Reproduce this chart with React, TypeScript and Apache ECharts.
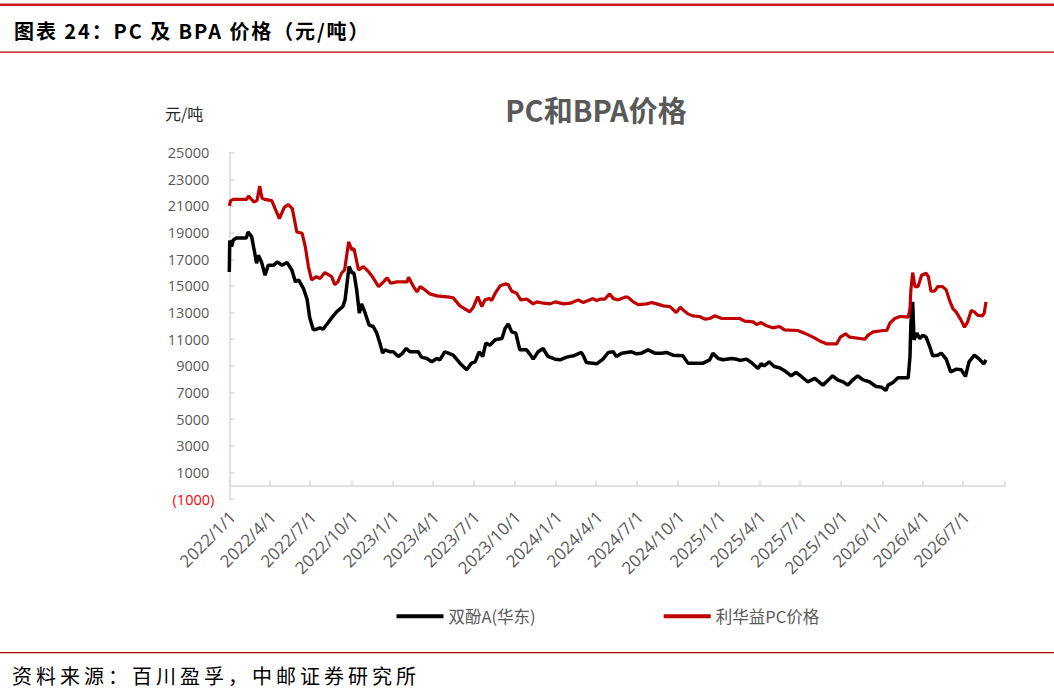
import React, { useEffect, useRef } from "react";
import * as echarts from "echarts";

const seriesNames = ["双酚A(华东)", "利华益PC价格"];

const bpaDates = [
  "2022-01-01","2022-01-02","2022-01-06","2022-01-10","2022-01-17","2022-02-08","2022-02-12","2022-02-20","2022-02-27","2022-03-03",
  "2022-03-07","2022-03-14","2022-03-22","2022-03-29","2022-04-10","2022-04-18","2022-04-29","2022-05-10","2022-05-21","2022-05-29",
  "2022-06-05","2022-06-16","2022-06-24","2022-06-30","2022-07-08","2022-07-15","2022-07-23","2022-07-30","2022-08-07","2022-08-18",
  "2022-08-29","2022-09-12","2022-09-17","2022-09-26","2022-10-02","2022-10-07","2022-10-13","2022-10-19","2022-10-24","2022-11-01",
  "2022-11-10","2022-11-19","2022-11-27","2022-12-04","2022-12-10","2022-12-15","2022-12-27","2023-01-03","2023-01-14","2023-01-22",
  "2023-02-01","2023-02-09","2023-02-28","2023-03-07","2023-03-19","2023-03-30","2023-04-10","2023-04-17","2023-04-28","2023-05-06",
  "2023-05-17","2023-06-01","2023-06-16","2023-06-27","2023-07-05","2023-07-14","2023-07-22","2023-07-29","2023-08-07","2023-08-19",
  "2023-09-03","2023-09-10","2023-09-17","2023-09-25","2023-10-04","2023-10-13","2023-10-28","2023-11-04","2023-11-12","2023-11-23",
  "2023-12-04","2023-12-15","2023-12-31","2024-01-11","2024-01-26","2024-02-10","2024-02-28","2024-03-04","2024-03-10","2024-04-02",
  "2024-04-16","2024-04-28","2024-05-09","2024-05-16","2024-05-28","2024-06-19","2024-06-30","2024-07-11","2024-07-26","2024-08-10",
  "2024-08-25","2024-09-05","2024-09-20","2024-10-12","2024-10-23","2024-11-26","2024-12-11","2024-12-18","2024-12-30","2025-01-10",
  "2025-01-29","2025-02-09","2025-02-16","2025-03-03","2025-03-14","2025-03-29","2025-04-05","2025-04-12","2025-04-23","2025-05-04",
  "2025-05-16","2025-05-31","2025-06-11","2025-06-22","2025-07-04","2025-07-18","2025-08-03","2025-08-21","2025-09-01","2025-09-12",
  "2025-09-23","2025-10-05","2025-10-16","2025-10-27","2025-11-07","2025-11-19","2025-12-03","2025-12-18","2025-12-30","2026-01-09",
  "2026-01-14","2026-01-25","2026-02-05","2026-02-28","2026-03-04","2026-03-06","2026-03-10","2026-03-13","2026-03-19","2026-03-26",
  "2026-04-02","2026-04-09","2026-04-17","2026-04-24","2026-05-05","2026-05-13","2026-05-24","2026-06-03","2026-06-16","2026-06-27",
  "2026-07-06","2026-07-14","2026-07-26","2026-08-06","2026-08-16","2026-08-21"
];
const bpaValues = [
  16050,18400,17950,18450,18600,18600,19050,18700,17450,16700,
  17300,16800,15800,16550,16550,16800,16550,16750,16200,15300,
  15450,14800,14000,12600,11700,11750,11850,11750,12100,12600,
  13050,13450,13950,16450,16000,15950,14700,12950,13650,12950,
  12050,11950,11450,10700,9950,10200,10050,10050,9700,9900,
  10300,10050,10050,9650,9550,9300,9550,9450,10050,9950,
  9800,9200,8700,9200,9300,10050,9700,10700,10550,10950,
  11050,11800,12150,11550,11450,10200,10200,9900,9500,10050,
  10300,9700,9500,9450,9650,9750,10000,9700,9250,9150,
  9500,10000,10050,9700,9950,10050,9900,9950,10200,9950,
  9950,10000,9800,9750,9200,9200,9450,9950,9550,9450,
  9550,9500,9400,9500,9250,8800,9150,9000,9300,8950,
  8850,8550,8250,8500,8200,7800,8050,7550,7900,8250,
  7950,7800,7550,7950,8250,7950,7800,7450,7400,7150,
  7550,7750,8100,8100,9700,12200,13800,10950,11450,11050,
  11300,11150,10450,9750,9800,9950,9500,8550,8750,8700,
  8200,9300,9800,9500,9150,9450
];

const pcDates = [
  "2022-01-01","2022-01-04","2022-01-10","2022-01-25","2022-02-09","2022-02-13","2022-02-25","2022-03-04","2022-03-10","2022-03-15",
  "2022-03-21","2022-04-06","2022-04-23","2022-05-04","2022-05-13","2022-05-22","2022-06-01","2022-06-13","2022-06-20","2022-06-27",
  "2022-07-04","2022-07-15","2022-07-23","2022-08-03","2022-08-18","2022-08-25","2022-09-01","2022-09-09","2022-09-16","2022-09-25",
  "2022-10-02","2022-10-07","2022-10-17","2022-10-28","2022-11-09","2022-11-16","2022-12-01","2022-12-12","2022-12-20","2022-12-28",
  "2023-01-11","2023-02-03","2023-02-06","2023-02-17","2023-02-25","2023-03-04","2023-03-15","2023-03-26","2023-04-10","2023-05-09",
  "2023-05-17","2023-06-01","2023-06-23","2023-07-01","2023-07-11","2023-07-20","2023-07-27","2023-08-06","2023-08-11","2023-08-19",
  "2023-08-30","2023-09-10","2023-09-17","2023-09-25","2023-10-06","2023-10-15","2023-10-29","2023-11-12","2023-11-20","2023-12-05",
  "2023-12-20","2023-12-31","2024-01-19","2024-02-03","2024-02-21","2024-03-03","2024-03-14","2024-03-25","2024-04-02","2024-04-09",
  "2024-04-20","2024-05-01","2024-05-09","2024-05-20","2024-06-04","2024-06-11","2024-06-23","2024-07-04","2024-07-23","2024-08-03",
  "2024-08-14","2024-08-29","2024-09-13","2024-09-27","2024-10-06","2024-10-12","2024-10-23","2024-11-03","2024-11-18","2024-11-30",
  "2024-12-11","2024-12-22","2025-01-07","2025-02-16","2025-02-27","2025-03-18","2025-03-26","2025-04-05","2025-04-17","2025-05-01",
  "2025-05-16","2025-05-27","2025-06-26","2025-07-11","2025-07-30","2025-08-18","2025-08-29","2025-09-21","2025-09-29","2025-10-11",
  "2025-10-20","2025-11-12","2025-11-23","2025-11-30","2025-12-12","2026-01-03","2026-01-11","2026-01-18","2026-01-29","2026-02-10",
  "2026-02-28","2026-03-04","2026-03-06","2026-03-10","2026-03-15","2026-03-22","2026-03-30","2026-04-09","2026-04-14","2026-04-20",
  "2026-04-28","2026-05-05","2026-05-16","2026-05-24","2026-05-31","2026-06-08","2026-06-15","2026-06-26","2026-07-04","2026-07-11",
  "2026-07-19","2026-07-26","2026-08-02","2026-08-13","2026-08-17","2026-08-21"
];
const pcValues = [
  21000,21400,21500,21500,21500,21750,21300,21400,22500,21600,
  21500,21400,20050,20900,21100,20800,19050,18950,17950,16450,
  15450,15700,15550,16000,15700,15100,15300,15950,16200,18300,
  17700,17800,16200,16450,16050,15750,14950,15300,15600,15200,
  15300,15300,15650,14950,14550,14950,14700,14400,14250,14150,
  14100,13500,13050,13400,14200,13450,13950,14050,13900,14450,
  15000,15150,15100,14600,14450,13950,14000,13650,13800,13700,
  13650,13800,13650,13700,13950,13750,13900,14050,13900,14000,
  14000,14400,14050,13950,14150,14150,13800,13600,13650,13750,
  13650,13500,13450,13000,13400,13200,12900,12750,12700,12500,
  12550,12750,12550,12550,12350,12300,12100,12250,12000,11850,
  11950,11700,11650,11450,11150,10800,10650,10650,11150,11400,
  11150,11050,11000,11300,11550,11650,11650,12200,12550,12700,
  12650,13300,14700,16000,14950,14950,15800,15950,15700,14600,
  14600,14950,14950,14700,13950,13300,13050,12450,11900,12300,
  13150,13050,12800,12750,12950,13800
];

const yTickMin = -1000;
const yTickMax = 25000;
const yTickStep = 2000;

const axisStart = "2022-01-01";
const axisEnd = "2026-10-01";
const quarterTicks = [
  "2022-01-01","2022-04-01","2022-07-01","2022-10-01",
  "2023-01-01","2023-04-01","2023-07-01","2023-10-01",
  "2024-01-01","2024-04-01","2024-07-01","2024-10-01",
  "2025-01-01","2025-04-01","2025-07-01","2025-10-01",
  "2026-01-01","2026-04-01","2026-07-01","2026-10-01"
];
const quarterLabels = quarterTicks.slice(0, quarterTicks.length - 1);

const ts = (s: string) => {
  const [y, m, d] = s.split("-").map(Number);
  return new Date(y, m - 1, d).getTime();
};

const CJK = '"Noto Sans CJK SC", "Noto Sans", sans-serif';
const NUM = '"Open Sans", "Noto Sans", sans-serif';

export default function App() {
  const ref = useRef<HTMLDivElement>(null);

  useEffect(() => {
    document.body.style.margin = "0";
    if (!ref.current) return;
    const chart = echarts.init(ref.current, null, { renderer: "svg" });
    const bpaData = bpaDates.map((d, i) => [ts(d), bpaValues[i]]);
    const pcData = pcDates.map((d, i) => [ts(d), pcValues[i]]);

    chart.setOption({
      animation: false,
      backgroundColor: "#ffffff",
      textStyle: { fontFamily: CJK },
      grid: { left: 229.3, top: 152.7, width: 775, height: 346.3, containLabel: false },
      legend: {
        left: 391.5,
        top: 603,
        icon: "rect",
        itemWidth: 47,
        itemHeight: 4,
        itemGap: 128,
        textStyle: { color: "#595959", fontSize: 16.5, fontFamily: CJK },
        data: seriesNames,
      },
      xAxis: {
        type: "value",
        min: ts(axisStart),
        max: ts(axisEnd),
        splitLine: { show: false },
        axisLine: { show: true, onZero: true, lineStyle: { color: "#d9d9d9", width: 1.5 } },
        axisTick: {
          show: true,
          inside: true,
          length: 5,
          lineStyle: { color: "#d9d9d9", width: 1.5 },
          customValues: quarterTicks.map(ts),
        },
        axisLabel: {
          show: true,
          rotate: 45,
          margin: 6,
          align: "right",
          verticalAlign: "top",
          color: "#595959",
          fontSize: 17,
          fontFamily: NUM,
          customValues: quarterLabels.map(ts),
          formatter: (v: number) => {
            const d = new Date(v);
            return `{d|${d.getFullYear()}/${d.getMonth() + 1}/${d.getDate()}}`;
          },
          rich: {
            d: { color: "#595959", fontSize: 17, fontFamily: NUM, padding: [0, 4, 0, 0] },
          },
        },
      },
      yAxis: {
        type: "value",
        min: yTickMin,
        max: yTickMax,
        interval: yTickStep,
        splitLine: { show: false },
        axisLine: { show: true, lineStyle: { color: "#d9d9d9", width: 1.5 } },
        axisTick: { show: true, inside: true, length: 5, lineStyle: { color: "#d9d9d9", width: 1.5 } },
        axisLabel: {
          margin: 15,
          fontSize: 14.5,
          fontFamily: NUM,
          color: "#595959",
          formatter: (v: number) => (v < 0 ? `{n|(${Math.abs(v)})}` : `{p|${v}}`),
          rich: {
            p: { color: "#595959", fontSize: 14.5, fontFamily: NUM, padding: [0, 5, 0, 0] },
            n: { color: "#ff0000", fontSize: 14.5, fontFamily: NUM },
          },
        },
      },
      series: [
        {
          name: seriesNames[0],
          type: "line",
          data: bpaData,
          showSymbol: false,
          symbol: "none",
          color: "#000000",
          lineStyle: { color: "#000000", width: 3.5 },
          z: 2,
        },
        {
          name: seriesNames[1],
          type: "line",
          data: pcData,
          showSymbol: false,
          symbol: "none",
          color: "#c00000",
          lineStyle: { color: "#c00000", width: 3.2 },
          z: 3,
        },
      ],
      graphic: [
        { type: "rect", left: 0, top: 3.5, shape: { width: 1054, height: 2.5 }, style: { fill: "#cc1a1f" }, silent: true },
        { type: "rect", left: 0, top: 51.5, shape: { width: 1054, height: 1.2 }, style: { fill: "#c00000" }, silent: true },
        { type: "rect", left: 0, top: 652, shape: { width: 1054, height: 1.2 }, style: { fill: "#a80000" }, silent: true },
        {
          type: "text",
          x: 596,
          y: 109,
          style: {
            text: "PC和BPA价格",
            fontSize: 29,
            fontWeight: "bold",
            fontFamily: CJK,
            fill: "#595959",
            align: "center",
            verticalAlign: "middle",
          },
        },
        {
          type: "text",
          x: 165,
          y: 113,
          style: {
            text: "元/吨",
            fontSize: 16,
            fontFamily: CJK,
            fill: "#262626",
            verticalAlign: "middle",
          },
        },
      ],
    });
    return () => chart.dispose();
  }, []);

  return (
    <div style={{ position: "relative", width: 1054, height: 697, background: "#fff" }}>
      <div ref={ref} style={{ width: 1054, height: 697 }} />
      <div
        style={{
          position: "absolute",
          left: 14,
          top: 18,
          fontFamily: CJK,
          fontSize: 20,
          fontWeight: "bold",
          lineHeight: "26px",
          letterSpacing: "1.9px",
          color: "#000",
          whiteSpace: "nowrap",
        }}
      >
        图表 24：PC 及 BPA 价格（元/吨）
      </div>
      <div
        style={{
          position: "absolute",
          left: 12,
          top: 664,
          fontFamily: CJK,
          fontSize: 20,
          lineHeight: "24px",
          letterSpacing: "4px",
          color: "#000",
          whiteSpace: "nowrap",
        }}
      >
        资料来源：百川盈孚，中邮证券研究所
      </div>
    </div>
  );
}
